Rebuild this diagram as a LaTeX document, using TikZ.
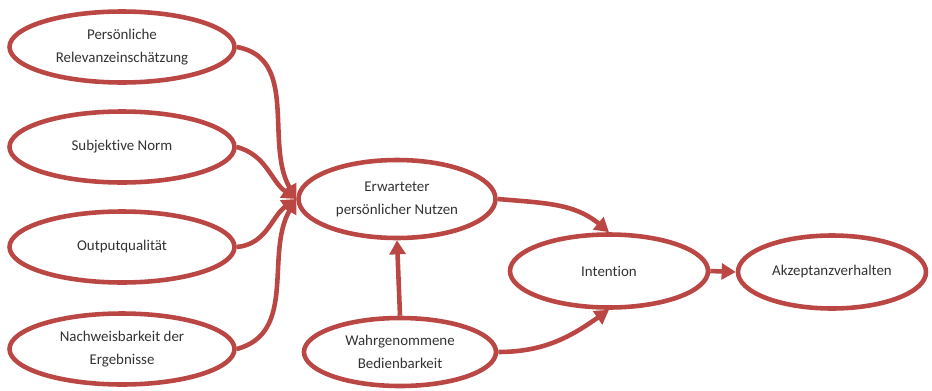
\documentclass[tikz,border=0pt]{standalone}
\usepackage{fontspec}
\setmainfont{Carlito}[Ligatures={NoCommon}]
\usetikzlibrary{arrows.meta, shapes.geometric, shadows}

\def\px{0.2mm}

\begin{document}
\begin{tikzpicture}[
    x=\px, y=-\px,
    every node/.style={font=\fontsize{8.5}{13}\selectfont, text=textcolor},
    bubble/.style={ellipse, draw=linkred, line width=2.6pt, fill=white,
        inner sep=0pt, align=center,
        drop shadow={opacity=0.18, shadow xshift=1pt, shadow yshift=-1pt}},
    link/.style={draw=linkred, line width=2.6pt,
        -{Triangle[length=8pt, width=9pt]}},
]

\definecolor{linkred}{HTML}{BA4744}
\definecolor{textcolor}{HTML}{333333}

\useasboundingbox (0,0) rectangle (932,390);

% ---------------------------------------------------------------- left column
\node[bubble, minimum width=225*\px, minimum height=71*\px] (relevanz) at (122, 47)
    {Persönliche\\Relevanzeinschätzung};
\node[bubble, minimum width=225*\px, minimum height=71*\px] (norm) at (122, 147)
    {Subjektive Norm};
\node[bubble, minimum width=225*\px, minimum height=71*\px] (output) at (122, 247)
    {Outputqualität};
\node[bubble, minimum width=225*\px, minimum height=71*\px] (nachweis) at (122, 349)
    {Nachweisbarkeit der\\Ergebnisse};

% ---------------------------------------------------------------- middle
\node[bubble, minimum width=197*\px, minimum height=78*\px] (nutzen) at (397, 199)
    {Erwarteter\\persönlicher Nutzen};
\node[bubble, minimum width=192*\px, minimum height=68*\px] (bedienbar) at (400, 352)
    {Wahrgenommene\\Bedienbarkeit};

% ---------------------------------------------------------------- right
\node[bubble, minimum width=198*\px, minimum height=73*\px] (intention) at (609, 271)
    {Intention};
\node[bubble, minimum width=188*\px, minimum height=73*\px] (verhalten) at (832, 272)
    {Akzeptanzverhalten};

% ---------------------------------------------------------------- arrows
\draw[link] (relevanz.east) to[out=-10, in=120] (nutzen.west);
\draw[link] (norm.east) to[out=-15, in=145] (nutzen.west);
\draw[link] (output.east) to[out=5, in=215] (nutzen.west);
\draw[link] (nachweis.east) to[out=15, in=240] (nutzen.west);

\draw[link] (nutzen.east) to[out=-5, in=140] (intention.north);
\draw[link] (bedienbar.east) to[out=0, in=215] (intention.south);
\draw[link] (bedienbar.north) -- (nutzen.south);
\draw[link] (intention.east) -- (verhalten.west);

\end{tikzpicture}
\end{document}
